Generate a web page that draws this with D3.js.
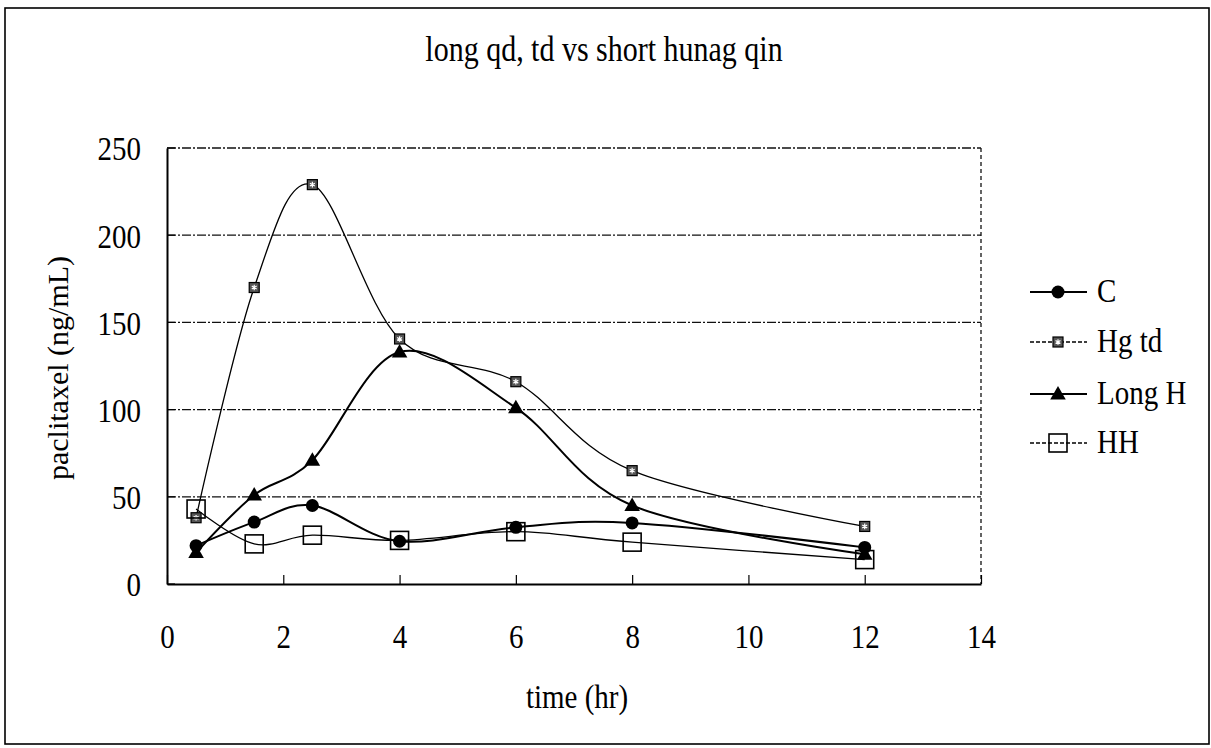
<!DOCTYPE html>
<html><head><meta charset="utf-8">
<script src="https://cdn.jsdelivr.net/npm/d3@7"></script>
<style>html,body{margin:0;padding:0;background:#fff;}svg{display:block;}</style>
</head><body>
<svg id="c" width="1211" height="748"></svg>
<script>
const times = [0.5, 1.5, 2.5, 4, 6, 8, 12];
const seriesNames = ["C", "Hg td", "Long H", "HH"];
const valC     = [22, 35.5, 45, 24.5, 32.5, 35, 21];
const valHgTd  = [38, 170, 229, 140.5, 116, 65, 33];
const valLongH = [18, 51, 71, 133, 101, 45, 17];
const valHH    = [43, 23, 28, 25, 30, 24, 14];
const xTicks = [0, 2, 4, 6, 8, 10, 12, 14];
const yTicks = [0, 50, 100, 150, 200, 250];
const titleText = "long qd, td vs short hunag qin";
const xTitle = "time (hr)";
const yTitle = "paclitaxel (ng/mL)";

const svg = d3.select("#c");
const FONT = "'Liberation Serif','Times New Roman',serif";
const VS = 1.18; // vertical stretch of the scanned text

const L = 167, R = 981, T = 148, B = 584;
const x = d3.scaleLinear().domain([0, 14]).range([L, R]);
const y = d3.scaleLinear().domain([0, 250]).range([B, T]);

// outer frame
svg.append("rect").attr("x", 5).attr("y", 8).attr("width", 1204).attr("height", 736)
  .attr("fill", "none").attr("stroke", "#000").attr("stroke-width", 1.6);

function htext(px, py, str, size, anchor) {
  svg.append("text").attr("transform", `translate(${px},${py}) scale(1,${VS})`)
    .attr("font-family", FONT).attr("font-size", size).attr("text-anchor", anchor || "middle")
    .attr("fill", "#000").text(str);
}
htext(604, 61, titleText, 30);
htext(577, 708, xTitle, 29);
svg.append("text").attr("transform", `translate(68,368) rotate(-90)`)
  .attr("font-family", FONT).attr("font-size", 30).attr("text-anchor", "middle")
  .attr("fill", "#000").text(yTitle);

// gridlines
svg.append("g").selectAll("line").data(yTicks.filter(v => v > 0)).join("line")
  .attr("x1", L).attr("x2", R).attr("y1", d => y(d)).attr("y2", d => y(d))
  .attr("stroke", "#111").attr("stroke-width", 1.3).attr("stroke-dasharray", "9,2,2,2");

// plot borders
svg.append("line").attr("x1", R).attr("x2", R).attr("y1", T).attr("y2", B)
  .attr("stroke", "#111").attr("stroke-width", 1.3).attr("stroke-dasharray", "4,3");

// axes
const xAxis = svg.append("g").attr("transform", `translate(0,${B})`)
  .call(d3.axisBottom(x).tickValues(xTicks).tickSizeInner(-9).tickSizeOuter(0).tickPadding(40));
xAxis.select(".domain").attr("stroke", "#000").attr("stroke-width", 1.8);
xAxis.selectAll(".tick line").attr("stroke", "#000").attr("stroke-width", 1.2);
xAxis.selectAll("text").attr("font-family", FONT).attr("font-size", 29).attr("fill", "#000")
  .each(function(){ const t = d3.select(this); t.attr("y", 40 / VS).attr("transform", `scale(1,${VS})`); });

const yAxis = svg.append("g").attr("transform", `translate(${L},0)`)
  .call(d3.axisLeft(y).tickValues(yTicks).tickSizeInner(-8).tickSizeOuter(0).tickPadding(26));
yAxis.select(".domain").attr("stroke", "#000").attr("stroke-width", 2);
yAxis.selectAll(".tick line").attr("stroke", "#000").attr("stroke-width", 1.2);
yAxis.selectAll("text").attr("font-family", FONT).attr("font-size", 29).attr("fill", "#000")
  .attr("dy", "0.36em").attr("transform", `scale(1,${VS})`)
  .each(function(d){ d3.select(this.parentNode).attr("transform", `translate(0,${y(d)})`); });

// series
const series = [
  { name: seriesNames[0], vals: valC, w: 2, marker: "circle" },
  { name: seriesNames[1], vals: valHgTd, w: 1.3, marker: "star" },
  { name: seriesNames[2], vals: valLongH, w: 2, marker: "tri" },
  { name: seriesNames[3], vals: valHH, w: 1.3, marker: "sq" }
];
const line = d3.line().x(d => x(d[0])).y(d => y(d[1])).curve(d3.curveCardinal.tension(0));

series.forEach(s => {
  const pts = times.map((t, i) => [t, s.vals[i]]);
  svg.append("path").attr("d", line(pts)).attr("fill", "none")
    .attr("stroke", "#000").attr("stroke-width", s.w);
});

function drawMarker(g, type, cx, cy) {
  if (type === "circle") {
    g.append("circle").attr("cx", cx).attr("cy", cy).attr("r", 6.5).attr("fill", "#000");
  } else if (type === "star") {
    g.append("rect").attr("x", cx - 5).attr("y", cy - 5).attr("width", 10).attr("height", 10)
      .attr("fill", "#555").attr("stroke", "#000").attr("stroke-width", 1.2);
    g.append("path").attr("transform", `translate(${cx},${cy})`)
      .attr("d", d3.symbol(d3.symbolAsterisk, 22)()).attr("stroke", "#fff").attr("stroke-width", 1.2).attr("fill", "none");
  } else if (type === "tri") {
    g.append("path").attr("transform", `translate(${cx},${cy + 1})`)
      .attr("d", d3.symbol(d3.symbolTriangle, 105)()).attr("fill", "#000");
  } else if (type === "sq") {
    g.append("rect").attr("x", cx - 9).attr("y", cy - 9).attr("width", 18).attr("height", 18)
      .attr("fill", "none").attr("stroke", "#000").attr("stroke-width", 1.6);
  }
}
const mg = svg.append("g");
series.forEach(s => {
  times.forEach((t, i) => drawMarker(mg, s.marker, x(t), y(s.vals[i])));
});

// legend
const legY = [292, 342, 394, 443];
const leg = svg.append("g");
series.forEach((s, i) => {
  const ly = legY[i];
  leg.append("line").attr("x1", 1030).attr("x2", 1087).attr("y1", ly).attr("y2", ly)
    .attr("stroke", "#000").attr("stroke-width", s.w)
    .attr("stroke-dasharray", (s.marker === "star" || s.marker === "sq") ? "4,2" : null);
  drawMarker(leg, s.marker, 1058, ly);
  svg.append("text").attr("transform", `translate(1097,${ly + 10}) scale(1,${VS})`)
    .attr("font-family", FONT).attr("font-size", 29).attr("fill", "#000").text(s.name);
});
</script>
</body></html>
